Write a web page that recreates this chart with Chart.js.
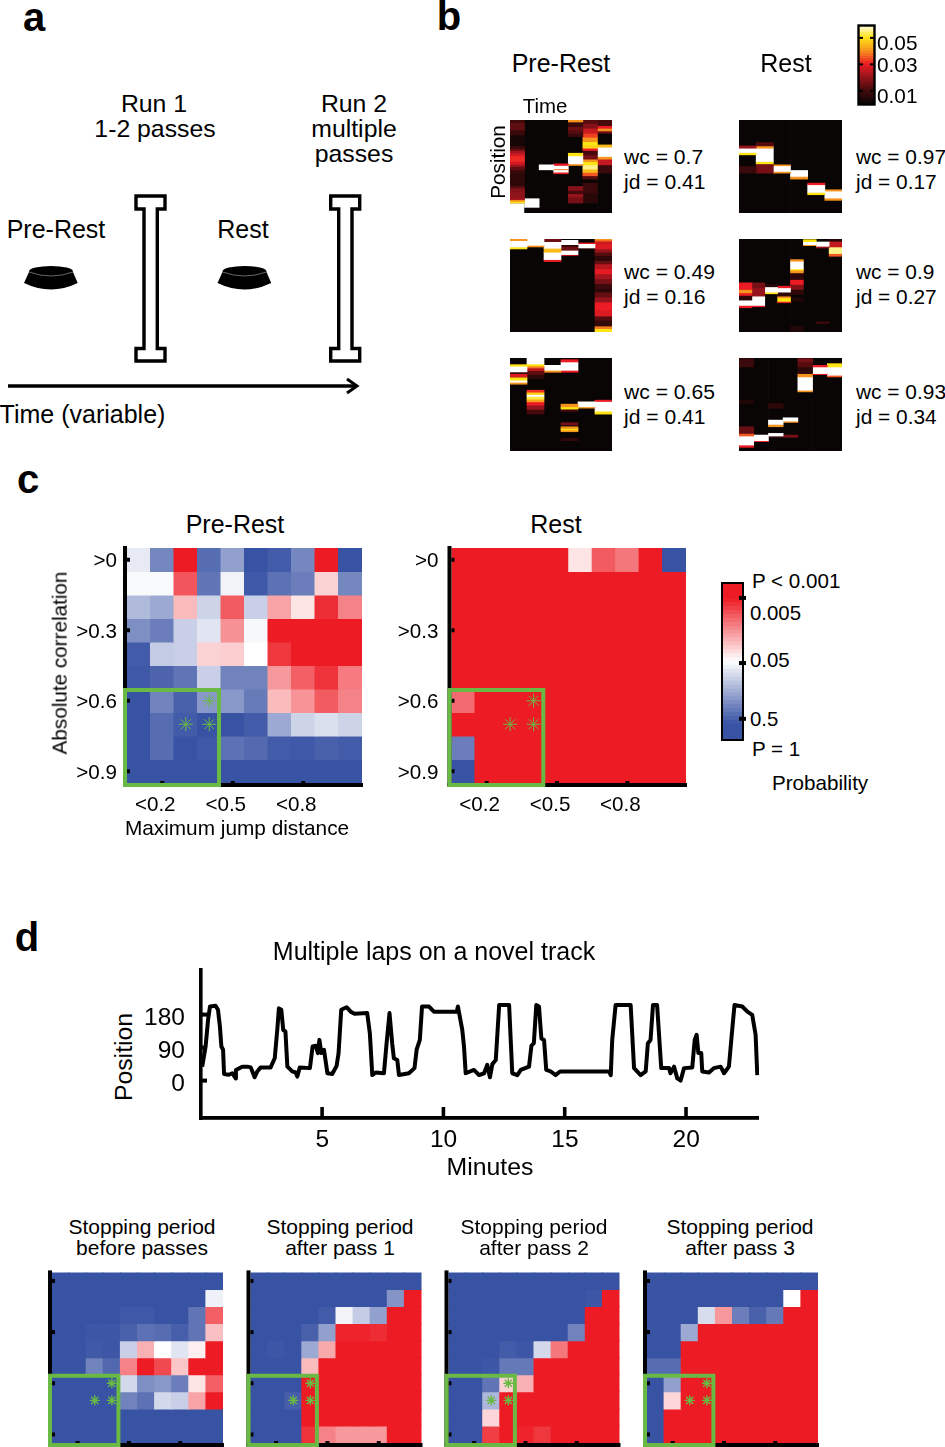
<!DOCTYPE html>
<html>
<head>
<meta charset="utf-8">
<style>
  html, body { margin: 0; background: #fff; }
  #page { position: relative; width: 945px; height: 1447px; overflow: hidden; font-family: "Liberation Sans", Arial, sans-serif; color: #000; }
  #page canvas, #page svg { position: absolute; }
  .txt { position: absolute; line-height: 1; white-space: nowrap; }
</style>
<script src="https://cdn.jsdelivr.net/npm/chart.js@4"></script>
</head>
<body>
<div id="page">
  <svg width="945" height="440" style="left:0;top:0">
    <g id="track"><path d="M136,196 H165 V209 H157.3 V348.5 H165 V361 H136 V348.5 H144 V209 H136 Z" fill="#fff" stroke="#000" stroke-width="3.4"/></g>
    <use href="#track" x="194.7"/>
    <g id="bowl">
      <ellipse cx="51" cy="271.5" rx="22" ry="5.5" fill="#000"/>
      <path d="M29,272 L24,283 Q51,296 77.7,283 L73,272 Z" fill="#000"/>
      <path d="M29,272 Q51,280 73,272" fill="none" stroke="#ccc" stroke-width="0.5"/>
    </g>
    <use href="#bowl" x="193.5"/>
    <path d="M8,386 H356" stroke="#000" stroke-width="3.4"/>
    <path d="M347,379 L357,386 L347,393" fill="none" stroke="#000" stroke-width="3"/>
  </svg>
</div>
<script>
// panel b: decoded position, each time bin is a list of [from, to, probability] bands (position 0-280)
const preRest1 = [
  [[0,8,.009],[8,30,.013],[30,45,.008],[45,78,.002],[78,86,.008],[86,92,.014],[92,100,.022],[100,108,.027],[108,125,.031],[125,134,.027],[134,141,.02],[141,150,.013],[150,160,.008],[160,198,.006],[198,205,.012],[205,215,.018],[215,235,.019],[235,240,.022],[240,245,.04],[245,250,.05]],
  [[237,263,.06]],
  [[135,150,.06]],
  [[132,137,.03],[137,147,.06],[147,150,.038],[150,157,.06],[157,162,.03]],
  [[0,6,.04],[6,20,.008],[20,30,.015],[30,40,.012],[40,50,.008],[100,108,.05],[108,132,.06],[132,137,.04],[200,212,.018],[212,222,.01],[222,232,.02],[232,250,.016]],
  [[0,10,.012],[10,25,.018],[25,40,.026],[40,52,.033],[52,65,.04],[65,75,.05],[75,85,.048],[85,92,.03],[92,105,.01],[105,118,.016],[118,125,.04],[125,135,.05],[135,148,.055],[148,158,.045],[158,168,.035],[168,178,.012],[190,220,.008],[220,250,.005]],
  [[0,15,.01],[18,25,.03],[25,33,.04],[33,40,.015],[75,82,.045],[82,110,.06],[110,118,.04],[118,135,.025],[135,160,.008]]
];
const preRest1Ends = [250,280,280,280,280,280,280];
const rest1 = [
  [[78,85,.02],[85,98,.06],[98,105,.05],[140,160,.008]],
  [[68,78,.012],[78,85,.04],[85,125,.06],[125,132,.05],[132,160,.016]],
  [[135,138,.04],[138,155,.06],[155,160,.04]],
  [[152,170,.06],[170,178,.04]],
  [[190,195,.03],[195,218,.06],[218,225,.05]],
  [[210,214,.04],[214,235,.06],[235,242,.04]]
];
const preRest2 = [
  [[0,5,.04],[5,24,.06],[24,30,.05]],
  [[0,19,.06],[19,24,.04]],
  [[0,8,.015],[8,28,.06],[28,40,.045],[40,62,.06],[62,68,.03]],
  [[4,17,.06],[17,22,.006],[22,34,.015],[34,47,.06],[47,50,.025]],
  [[12,14,.03],[14,27,.06],[27,30,.006]],
  [[0,3,.04],[3,7,.035],[7,15,.026],[15,30,.028],[30,40,.02],[40,50,.012],[50,65,.006],[65,75,.014],[75,90,.024],[90,105,.029],[105,120,.022],[120,135,.016],[135,150,.008],[150,160,.006],[160,175,.014],[175,190,.02],[190,215,.03],[215,232,.028],[232,245,.012],[245,262,.007],[262,270,.038],[270,280,.05]]
];
const rest2 = [
  [[132,152,.03],[152,162,.04],[162,170,.03],[170,184,.006],[184,200,.06],[200,207,.03]],
  [[132,147,.016],[147,172,.02],[172,200,.06],[200,204,.03]],
  [[137,144,.005],[144,160,.06],[160,165,.05]],
  [[142,147,.03],[147,160,.06],[160,172,.006],[172,177,.04],[177,188,.05],[188,192,.03]],
  [[62,67,.04],[67,90,.06],[90,94,.05],[94,102,.04],[102,122,.006],[122,137,.03],[137,152,.018],[152,167,.006],[177,187,.004],[262,280,.004]],
  [[2,8,.05],[8,17,.06],[17,20,.04]],
  [[9,22,.06],[22,27,.02],[249,255,.008]],
  [[0,7,.005],[7,24,.025],[24,44,.055],[44,52,.035]]
];
const preRest3 = [
  [[20,25,.05],[25,42,.06],[42,47,.006],[47,57,.028],[59,67,.05],[67,73,.06],[73,79,.04]],
  [[0,18,.06],[18,24,.05],[24,30,.038],[30,38,.025],[38,50,.013],[50,62,.006],[97,103,.032],[103,110,.048],[110,116,.06],[116,124,.052],[124,132,.042],[132,142,.03],[142,155,.02],[155,169,.01]],
  [[22,37,.06],[37,43,.04]],
  [[5,12,.03],[12,37,.06],[37,43,.03],[139,147,.04],[147,154,.05],[154,162,.008],[195,202,.016],[207,212,.04],[212,217,.05],[217,222,.04],[242,249,.006]],
  [[132,147,.06],[147,151,.04]],
  [[127,131,.03],[131,160,.06],[160,169,.05]]
];
const rest3 = [
  [[2,27,.008],[127,137,.004],[207,227,.014],[227,235,.035],[235,262,.06],[262,269,.03]],
  [[232,249,.06],[249,252,.03]],
  [[137,152,.006],[187,200,.06],[200,207,.04],[227,235,.06],[235,239,.008]],
  [[180,190,.06],[190,194,.04],[232,239,.016]],
  [[2,12,.016],[12,27,.012],[27,47,.006],[47,57,.04],[57,97,.06],[97,102,.04]],
  [[22,27,.03],[27,47,.06],[47,50,.03]],
  [[17,27,.05],[27,52,.06],[52,57,.035]]
];
const probLevels = [0,.002,.004,.006,.008,.01,.012,.014,.016,.018,.02,.022,.024,.026,.028,.03,.032,.034,.036,.038,.04,.042,.044,.046,.048,.05,.052,.054,.056,.058];
const probTicks = [.05,.03,.01];
const probTickLabels = ['0.05','0.03','0.01'];

// panel c and lower panel d: significance per cell, -1 blue (P = 1), 0 white (P = 0.05), 1 red (P < 0.001)
const cellBins = ['1','2','3','4','5','6','7','8','9','10'];
const corrTicks = [.5,3.5,6.5,9.5];
const corrLabels = ['>0','>0.3','>0.6','>0.9'];
const jumpTicks = [1,4,7];
const jumpLabels = ['<0.2','<0.5','<0.8'];
const starBins = ['4','3','4'];
const starRows = [6.5,7.5,7.5];
const cellsPreRest = [
  [-.12,-.7,1,-.85,-.55,-1,-.95,-.7,1,-1],
  [-.03,-.03,.75,-.8,-.07,-.97,-.82,-.75,.2,-.7],
  [-.4,-.5,.3,-.25,.72,-.28,.4,.12,.92,.55],
  [-.65,-.75,-.28,-.15,.48,-.04,1,1,1,1],
  [-.95,-.3,-.28,.2,.22,0,.88,1,1,1],
  [-.97,-.9,-.8,-.28,-.72,-.72,.45,.7,.9,.58],
  [-1,-.72,-.92,-.6,-.6,-.77,.3,.47,.72,.55],
  [-1,-.85,-.95,-1,-1,-.95,-.5,-.25,-.18,-.25],
  [-1,-.85,-1,-.97,-.82,-.87,-.95,-.97,-.92,-.95],
  [-1,-1,-1,-1,-1,-1,-1,-1,-1,-1]
];
const cellsRest = [
  [1,1,1,1,1,.12,.72,.6,1,-1],
  [1,1,1,1,1,1,1,1,1,1],
  [1,1,1,1,1,1,1,1,1,1],
  [1,1,1,1,1,1,1,1,1,1],
  [1,1,1,1,1,1,1,1,1,1],
  [1,1,1,1,1,1,1,1,1,1],
  [.65,1,1,1,1,1,1,1,1,1],
  [1,1,1,1,1,1,1,1,1,1],
  [-.75,1,1,1,1,1,1,1,1,1],
  [-1,1,1,1,1,1,1,1,1,1]
];
const cellsBefore = [
  [-1,-1,-1,-1,-1,-1,-1,-1,-1,-1],
  [-1,-1,-1,-1,-1,-1,-1,-1,-1,-.08],
  [-1,-1,-1,-1,-.97,-.97,-1,-1,-.8,.7],
  [-1,-1,-.98,-.98,-.92,-.82,-.85,-.93,-.8,.28],
  [-1,-1,-.96,-.98,-.28,.35,0,-.15,.07,1],
  [-1,-1,-.72,-.88,.55,1,.8,.25,1,1],
  [-1,-1,-1,-1,-.22,-.65,-.6,-.75,.12,.7],
  [-1,-1,-1,-1,-.72,-.82,-.22,-.28,.4,1],
  [-1,-1,-1,-1,-1,-1,-1,-1,-1,-1],
  [-1,-1,-1,-1,-1,-1,-1,-1,-1,-1]
];
const cellsPass1 = [
  [-1,-1,-1,-1,-1,-1,-1,-1,-1,-1],
  [-1,-1,-1,-1,-1,-1,-1,-1,-.62,1],
  [-1,-1,-1,-1,-.95,-.07,-.3,-.55,1,1],
  [-1,-1,-1,-.92,-.55,.97,.97,.93,1,1],
  [-1,-.98,-1,-.5,.38,1,1,1,1,1],
  [-1,-1,-1,.3,1,1,1,1,1,1],
  [-1,-1,-1,1,1,1,1,1,1,1],
  [-1,-1,-.93,1,1,1,1,1,1,1],
  [-1,-1,-1,1,1,1,1,1,1,1],
  [-1,-1,-1,.9,.55,.45,.45,.45,1,1]
];
const cellsPass2 = [
  [-1,-1,-1,-1,-1,-1,-1,-1,-1,-1],
  [-1,-1,-1,-1,-1,-1,-1,-1,-.98,1],
  [-1,-1,-1,-1,-1,-1,-1,-1,1,1],
  [-1,-1,-1,-1,-1,-1,-1,-.72,1,1],
  [-1,-1,-1,-.95,-.98,-.22,.6,1,1,1],
  [-1,-1,-.98,-.78,-.78,1,1,1,1,1],
  [-1,-1,-.8,.2,.35,1,1,1,1,1],
  [-1,-1,-.42,1,1,1,1,1,1,1],
  [-1,-1,.18,1,1,1,1,1,1,1],
  [-1,-1,.85,1,.97,.88,1,1,1,1]
];
const cellsPass3 = [
  [-1,-1,-1,-1,-1,-1,-1,-1,-1,-1],
  [-1,-1,-1,-1,-1,-1,-1,-1,0,1],
  [-1,-1,-1,-.2,.45,-.75,-.92,-.78,1,1],
  [-1,-1,-.5,1,1,1,1,1,1,1],
  [-1,-1,1,1,1,1,1,1,1,1],
  [-.85,-.85,1,1,1,1,1,1,1,1],
  [-1,-.55,1,1,1,1,1,1,1,1],
  [-1,.18,1,1,1,1,1,1,1,1],
  [-1,1,1,1,1,1,1,1,1,1],
  [-1,1,1,1,1,1,1,1,1,1]
];
const pLevels = [-1,-.95,-.9,-.85,-.8,-.75,-.7,-.65,-.6,-.55,-.5,-.45,-.4,-.35,-.3,-.25,-.2,-.15,-.1,-.05,0,.05,.1,.15,.2,.25,.3,.35,.4,.45,.5,.55,.6,.65,.7,.75,.8,.85,.9,.95];
const pTicks = [.81,-.02,-.73];

// panel d: animal position over the session
const minutes = [.05,.19,.29,.37,.6,.7,.78,.84,.91,.95,1.15,1.29,1.43,1.44,1.7,1.91,2.05,2.21,2.32,2.46,2.87,3.04,3.15,3.21,3.31,3.39,3.48,3.56,3.76,3.9,3.97,4.07,4.49,4.6,4.73,4.82,4.88,4.96,5.07,5.21,5.41,5.59,5.67,5.78,6,6.17,6.33,6.85,6.96,7.06,7.2,7.54,7.65,7.77,7.88,7.95,8.09,8.16,8.57,8.8,8.89,9.02,9.11,9.4,9.6,9.88,10,10.54,10.59,10.77,10.84,10.91,11.25,11.46,11.67,11.8,11.91,12.01,12.15,12.29,12.7,12.83,13.04,13.18,13.52,13.62,13.72,13.82,13.93,14.03,14.14,14.23,14.41,14.62,14.8,16.82,16.89,16.95,17.09,17.71,17.85,18.12,18.33,18.42,18.53,18.63,18.8,18.97,19.29,19.35,19.5,19.63,19.77,19.91,20.25,20.35,20.43,20.5,20.62,20.66,20.94,21.14,21.42,21.56,21.76,21.87,21.99,22.31,22.52,22.72,22.86,22.93];
const position = [38,93,165,202,204,193,147,93,84,18,16,20,6,29,38,38,36,9,25,36,36,61,143,197,193,138,134,38,25,22,11,36,34,93,95,75,111,75,84,20,18,40,75,193,200,188,182,184,129,15,22,20,102,184,102,61,56,15,20,34,85,111,202,202,188,188,188,188,202,138,93,20,29,15,20,43,9,45,56,206,206,20,15,29,38,95,102,206,202,115,111,29,25,15,25,25,15,111,206,206,34,15,25,102,111,206,206,34,34,20,38,6,0,34,36,111,125,75,75,25,22,34,38,20,38,120,206,202,188,179,125,15];
const minuteTicks = [5,10,15,20];
const positionTicks = [180,90,0];

const GREEN = '#6ab945';
const page = document.getElementById('page');
const tickFont = { family: '"Liberation Sans", Arial, sans-serif' };

function label(text, x, y, size, opts) {
  opts = opts || {};
  const d = document.createElement('div');
  d.className = 'txt';
  d.textContent = text;
  d.style.fontSize = size + 'px';
  d.style.left = x + 'px';
  d.style.top = y + 'px';
  if (opts.bold) d.style.fontWeight = 'bold';
  if (opts.left) d.style.transform = 'translate(0,-50%)';
  else if (opts.rotate) d.style.transform = 'translate(-50%,-50%) rotate(-90deg)';
  else d.style.transform = 'translate(-50%,-50%)';
  page.appendChild(d);
}

function mix(a, b, t) {
  return 'rgb(' + a.map((c, i) => Math.round(c + (b[i] - c) * t)).join(',') + ')';
}

function bwr(v) {
  if (v < 0) return mix([255,255,255], [57,83,164], Math.min(1, -v));
  return mix([255,255,255], [237,28,36], Math.min(1, v));
}

const hotStops = [[10,5,5],[70,10,12],[150,20,28],[237,28,36],[247,148,30],[255,228,20],[255,255,255]];
function hot(v) {
  const s = Math.min(5.999, v / .01);
  const i = Math.floor(s);
  return mix(hotStops[i], hotStops[i + 1], s - i);
}

// makes the canvas so the plot area lands on rect, margins hold the tick labels
function makeChart(rect, margins, config) {
  const m = Object.assign({ left: 4, bottom: 4, top: 6, right: 6 }, margins);
  const c = document.createElement('canvas');
  const cx = Math.floor(rect.x) - m.left;
  const w = m.left + Math.ceil(rect.w) + 1 + m.right;
  const h = m.top + Math.ceil(rect.h) + m.bottom;
  c.width = w;
  c.height = h;
  c.style.left = cx + 'px';
  c.style.top = (Math.floor(rect.y) - m.top) + 'px';
  page.appendChild(c);
  const yWidth = rect.x - cx;
  const xHeight = h - (rect.y - Math.floor(rect.y)) - m.top - rect.h;
  config.options = Object.assign({
    responsive: false,
    animation: false,
    events: [],
    layout: { padding: { top: m.top + rect.y - Math.floor(rect.y), right: w - yWidth - rect.w, left: 0, bottom: 0 } }
  }, config.options);
  config.options.plugins = { legend: { display: false }, tooltip: { enabled: false } };
  const fx = s => { s.height = xHeight; s.paddingLeft = s.paddingRight = 0; };
  const fy = s => { s.width = yWidth; s.paddingTop = s.paddingBottom = 0; };
  config.options.scales.x.afterFit = fx;
  config.options.scales.y.afterFit = fy;
  return new Chart(c, config);
}

function hiddenAxis(extra) {
  return Object.assign({
    grid: { display: false, drawTicks: false },
    border: { display: false },
    ticks: { display: false }
  }, extra);
}

function traceChart(rect, bins, ends) {
  const labels = bins.map((b, i) => String(i + 1));
  const datasets = [];
  bins.forEach((bands, col) => {
    bands.forEach(b => {
      const data = labels.map(() => null);
      data[col] = [b[0], b[1]];
      datasets.push({ data: data, backgroundColor: hot(b[2]) });
    });
  });
  // goes last so it is painted first
  datasets.push({ data: ends.map(e => [0, e]), backgroundColor: hot(0) });
  makeChart(rect, {}, {
    type: 'bar',
    data: { labels: labels, datasets: datasets },
    options: {
      barPercentage: 1,
      categoryPercentage: 1,
      scales: {
        x: hiddenAxis({ stacked: true, offset: true }),
        y: hiddenAxis({ stacked: false, reverse: true, min: 0, max: 280 })
      }
    }
  });
}

const allEnds = n => Array(n).fill(280);
traceChart({ x: 510, y: 120, w: 102, h: 93 }, preRest1, preRest1Ends);
traceChart({ x: 739, y: 120, w: 103, h: 93 }, rest1, allEnds(6));
traceChart({ x: 510, y: 239, w: 102, h: 93 }, preRest2, allEnds(6));
traceChart({ x: 739, y: 239, w: 103, h: 93 }, rest2, allEnds(8));
traceChart({ x: 510, y: 358, w: 102, h: 93 }, preRest3, allEnds(6));
traceChart({ x: 739, y: 358, w: 103, h: 93 }, rest3, allEnds(7));

const frameMarks = {
  id: 'frameMarks',
  afterDatasetsDraw(chart) {
    const { left, right, top, bottom } = chart.chartArea;
    const ctx = chart.ctx;
    ctx.save();
    ctx.strokeStyle = '#000';
    ctx.lineWidth = 2.4;
    ctx.strokeRect(left - .5, top - .5, right - left + 1, bottom - top + 1);
    ctx.fillStyle = '#000';
    chart.scales.y.ticks.forEach(t => {
      const p = chart.scales.y.getPixelForValue(t.value);
      ctx.fillRect(left, p - 1, 4, 2);
      ctx.fillRect(right - 4, p - 1, 4, 2);
    });
    ctx.restore();
  }
};

// colour bar of panel b
makeChart({ x: 859, y: 26, w: 15, h: 78 }, { right: 50, top: 12, bottom: 10 }, {
  type: 'bar',
  data: { labels: ['p'], datasets: probLevels.map(v => ({ data: [[v, v + .002]], backgroundColor: hot(v + .001), inflateAmount: .5 })) },
  options: {
    barPercentage: 1,
    categoryPercentage: 1,
    scales: {
      x: hiddenAxis({ stacked: true, offset: true }),
      y: hiddenAxis({
        stacked: false, min: 0, max: .059,
        afterBuildTicks: s => { s.ticks = probTicks.map(v => ({ value: v })); }
      })
    }
  },
  plugins: [frameMarks]
});
// tick labels of the colour bar
probTicks.forEach((v, i) => label(probTickLabels[i], 877, [43, 65, 96][i], 20.8, { left: true }));

function heatChart(rect, cells, opts) {
  const datasets = cells.map((row, r) => ({
    data: row.map(() => [r, r + 1]),
    backgroundColor: row.map(bwr),
    inflateAmount: .5
  }));
  datasets.unshift({
    type: 'line',
    showLine: false,
    order: -1,
    data: starBins.map((b, i) => ({ x: b, y: starRows[i] })),
    pointStyle: 'star',
    pointRadius: opts.starSize,
    pointBorderWidth: opts.starWidth,
    pointBorderColor: GREEN,
    pointBackgroundColor: GREEN
  });
  const marks = {
    id: 'marks',
    afterDatasetsDraw(chart) {
      const { left, right, top, bottom } = chart.chartArea;
      const { x, y } = chart.scales;
      const ctx = chart.ctx;
      ctx.save();
      ctx.fillStyle = '#000';
      ctx.fillRect(left - 4, top - 2, 4, bottom - top + 5);
      ctx.fillRect(left - 4, bottom, right - left + 5, 4);
      y.ticks.forEach(t => ctx.fillRect(left, y.getPixelForValue(t.value) - 2, 3, 4));
      x.ticks.forEach(t => ctx.fillRect(x.getPixelForValue(t.value) - 2, bottom - 2, 4, 2));
      const cell = (right - left) / 10;
      ctx.strokeStyle = GREEN;
      ctx.lineWidth = 4;
      ctx.strokeRect(left - 2, y.getPixelForValue(6) + 1, cell * 4, bottom - y.getPixelForValue(6) + 1);
      ctx.restore();
    }
  };
  const font = Object.assign({ size: 20.6 }, tickFont);
  makeChart(rect, opts.margins, {
    type: 'bar',
    data: { labels: cellBins, datasets: datasets },
    options: {
      barPercentage: 1,
      categoryPercentage: 1,
      scales: {
        x: {
          stacked: true,
          offset: true,
          grid: { display: false, drawTicks: false },
          border: { display: false },
          afterBuildTicks: s => { s.ticks = jumpTicks.map(v => ({ value: v })); },
          ticks: {
            display: opts.labels,
            autoSkip: false,
            maxRotation: 0,
            padding: 10,
            labelOffset: -7,
            color: '#000',
            font: font,
            callback: v => jumpLabels[jumpTicks.indexOf(v)]
          }
        },
        y: {
          stacked: false,
          reverse: true,
          min: 0,
          max: 10,
          grid: { display: false, drawTicks: false },
          border: { display: false },
          afterBuildTicks: s => { s.ticks = corrTicks.map(v => ({ value: v })); },
          ticks: {
            display: opts.labels,
            padding: opts.labelGap || 10,
            labelOffset: 2,
            color: '#000',
            font: font,
            callback: v => corrLabels[corrTicks.indexOf(v)]
          }
        }
      }
    },
    plugins: [marks]
  });
}

const bigHeat = { starSize: 7, starWidth: 1, labels: true, margins: { left: 60, bottom: 34, top: 8, right: 8 } };
const bigHeatRest = Object.assign({}, bigHeat, { labelGap: 13 });
const smallHeat = { starSize: 5, starWidth: 1.4, labels: false, margins: { left: 8, bottom: 8, top: 6, right: 6 } };
heatChart({ x: 127, y: 548, w: 235, h: 235 }, cellsPreRest, bigHeat);
heatChart({ x: 451.5, y: 548, w: 234.5, h: 235 }, cellsRest, bigHeatRest);
heatChart({ x: 52, y: 1272, w: 171, h: 171 }, cellsBefore, smallHeat);
heatChart({ x: 250.5, y: 1272, w: 171, h: 171 }, cellsPass1, smallHeat);
heatChart({ x: 448.5, y: 1272, w: 171, h: 171 }, cellsPass2, smallHeat);
heatChart({ x: 647, y: 1272, w: 171, h: 171 }, cellsPass3, smallHeat);

// colour bar of panel c
makeChart({ x: 722, y: 583, w: 21, h: 157 }, { top: 6, bottom: 6 }, {
  type: 'bar',
  data: { labels: ['p'], datasets: pLevels.map(v => ({ data: [[v, v + .05]], backgroundColor: bwr((v + .025) / .8), inflateAmount: .5 })) },
  options: {
    barPercentage: 1,
    categoryPercentage: 1,
    scales: {
      x: hiddenAxis({ stacked: true, offset: true }),
      y: hiddenAxis({
        stacked: false, min: -1, max: 1,
        afterBuildTicks: s => { s.ticks = pTicks.map(v => ({ value: v })); }
      })
    }
  },
  plugins: [{
    id: 'barFrame',
    afterDatasetsDraw(chart) {
      const { left, right, top, bottom } = chart.chartArea;
      const ctx = chart.ctx;
      ctx.save();
      ctx.strokeStyle = '#000';
      ctx.lineWidth = 2;
      ctx.strokeRect(left, top, right - left, bottom - top);
      ctx.fillStyle = '#000';
      chart.scales.y.ticks.forEach(t => ctx.fillRect(right - 4, chart.scales.y.getPixelForValue(t.value) - 2, 7, 4));
      ctx.restore();
    }
  }]
});

// position trace
const traceFont = Object.assign({ size: 24.5 }, tickFont);
makeChart({ x: 201, y: 968, w: 558, h: 150 }, { left: 60, bottom: 40, top: 4, right: 10 }, {
  type: 'line',
  data: {
    datasets: [{
      data: minutes.map((m, i) => ({ x: m, y: position[i] })),
      borderColor: '#000',
      borderWidth: 4,
      borderJoinStyle: 'round',
      pointRadius: 0,
      tension: 0
    }]
  },
  options: {
    scales: {
      x: {
        type: 'linear',
        min: 0,
        max: 23,
        grid: { display: false, drawTicks: false },
        border: { display: false },
        afterBuildTicks: s => { s.ticks = minuteTicks.map(v => ({ value: v })); },
        ticks: { padding: 8, labelOffset: 0, color: '#000', font: traceFont, maxRotation: 0, autoSkip: false }
      },
      y: {
        min: -102,
        max: 307,
        grid: { display: false, drawTicks: false },
        border: { display: false },
        afterBuildTicks: s => { s.ticks = positionTicks.map(v => ({ value: v })); },
        ticks: { padding: 16, labelOffset: 4, color: '#000', font: traceFont, autoSkip: false }
      }
    }
  },
  plugins: [{
    id: 'traceAxes',
    afterDatasetsDraw(chart) {
      const { left, right, top, bottom } = chart.chartArea;
      const { x, y } = chart.scales;
      const ctx = chart.ctx;
      ctx.save();
      ctx.fillStyle = '#000';
      ctx.fillRect(left - 2, top, 3.6, bottom - top + 2);
      ctx.fillRect(left - 2, bottom - 2, right - left + 2, 3.8);
      y.ticks.forEach(t => ctx.fillRect(left, y.getPixelForValue(t.value) - 2, 6, 4));
      x.ticks.forEach(t => ctx.fillRect(x.getPixelForValue(t.value) - 2, bottom - 11, 3.6, 10));
      ctx.restore();
    }
  }]
});

// text outside the charts
label('a', 34, 17, 40, { bold: true });
label('b', 449, 16, 40, { bold: true });
label('c', 28, 479, 40, { bold: true });
label('d', 27, 937, 40, { bold: true });
label('Run 1', 154, 104, 24.8);
label('1-2 passes', 155, 129, 24.8);
label('Run 2', 354, 104, 24.8);
label('multiple', 354, 129, 24.8);
label('passes', 354, 154, 24.8);
label('Pre-Rest', 56, 229, 25);
label('Rest', 243, 229, 25);
label('Time (variable)', 82.5, 414, 25);
label('Pre-Rest', 561, 63, 25);
label('Rest', 786, 63, 25);
label('Time', 545, 106, 20.4);
label('Position', 498, 162, 20.7, { rotate: true });
[['wc = 0.7','jd = 0.41',624,157],['wc = 0.97','jd = 0.17',856,157],
 ['wc = 0.49','jd = 0.16',624,272],['wc = 0.9','jd = 0.27',856,272],
 ['wc = 0.65','jd = 0.41',624,392],['wc = 0.93','jd = 0.34',856,392]].forEach(t => {
  const size = t[2] > 800 ? 20.9 : 21.1;
  label(t[0], t[2], t[3], size, { left: true });
  label(t[1], t[2], t[3] + 25, size, { left: true });
});
label('Pre-Rest', 235, 524, 25);
label('Rest', 556, 524, 25);
label('Absolute correlation', 60, 663, 20.7, { rotate: true });
label('Maximum jump distance', 237, 828, 20.8);
label('P < 0.001', 752, 581, 20.6, { left: true });
label('0.005', 750, 613, 20.4, { left: true });
label('0.05', 750, 660, 20.4, { left: true });
label('0.5', 750, 719, 20.4, { left: true });
label('P = 1', 752, 749, 20.6, { left: true });
label('Probability', 772, 783, 20.6, { left: true });
label('Multiple laps on a novel track', 434, 951, 25);
label('Position', 124, 1057, 24.8, { rotate: true });
label('Minutes', 490, 1167, 24.8);
[['Stopping period','before passes',142],['Stopping period','after pass 1',340],
 ['Stopping period','after pass 2',534],['Stopping period','after pass 3',740]].forEach(t => {
  label(t[0], t[2], 1226, 21);
  label(t[1], t[2], 1247, 21);
});
</script>
</body>
</html>
